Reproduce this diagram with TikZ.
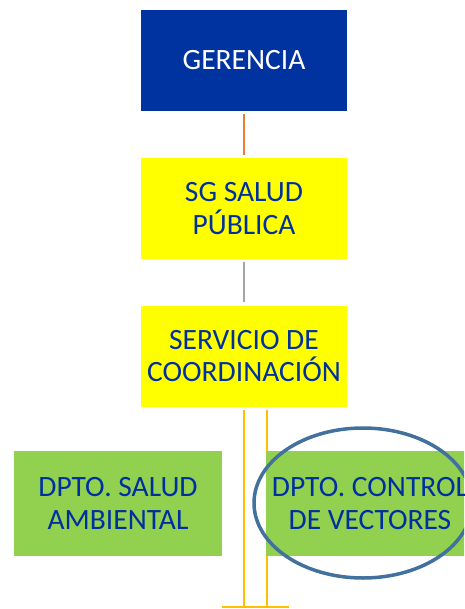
\documentclass[tikz,border=0pt]{standalone}
\usepackage{fontspec}
\setmainfont{Carlito}
\usetikzlibrary{calc}
\definecolor{gerblue}{RGB}{0,51,160}
\definecolor{txtblue}{RGB}{0,48,160}
\definecolor{yel}{RGB}{255,255,0}
\definecolor{grn}{RGB}{146,208,80}
\definecolor{orng}{RGB}{237,125,49}
\definecolor{gry}{RGB}{165,165,165}
\definecolor{gold}{RGB}{255,192,0}
\definecolor{ellc}{RGB}{65,113,156}
\tikzset{
  box/.style={rectangle, draw=none, inner sep=0pt, align=center,
    font=\fontsize{29.5}{32.5}\selectfont},
  topbox/.style={box, fill=gerblue, text=white, minimum width=206pt, minimum height=101pt},
  yelbox/.style={box, fill=yel, text=txtblue, minimum width=206pt, minimum height=101pt},
  grnbox/.style={box, fill=grn, text=txtblue, minimum width=208pt, minimum height=105pt},
  conn/.style={line width=2.5pt, shorten <=3pt, shorten >=3pt},
  goldline/.style={draw=gold, line width=2.5pt},
}
\begin{document}
\begin{tikzpicture}[x=1pt,y=-1pt]
\clip (0,0) rectangle (464,609);
\fill[white] (0,0) rectangle (464,609);
% bottom connectors (behind boxes)
\coordinate (c1) at (244,607);
\coordinate (c2) at (267,607);
\coordinate (bl) at (222,607);
\coordinate (br) at (289,607);
\coordinate (s1) at (244,410);
\coordinate (s2) at (267,410);
\draw[goldline] (s1) -- (c1);
\draw[goldline] (s2) -- (c2);
\draw[goldline] (bl) -- (br);
% boxes
\node[topbox] (g) at (244,60.5) {GERENCIA};
\node[yelbox] (sg) at (244,208.5) {SG SALUD\\PÚBLICA};
\node[yelbox] (sc) at (244,356) {SERVICIO DE\\COORDINACIÓN};
\node[grnbox] (da) at (118,503.5) {DPTO. SALUD\\AMBIENTAL};
\node[grnbox] (dv) at (370,503.5) {DPTO. CONTROL\\DE VECTORES};
% connectors
\draw[conn, orng] (g.south) -- (sg.north);
\draw[conn, gry] (sg.south) -- (sc.north);
% ellipse highlight
\draw[draw=ellc, line width=3.5pt] (363,503) ellipse [x radius=109, y radius=75];
\end{tikzpicture}
\end{document}
